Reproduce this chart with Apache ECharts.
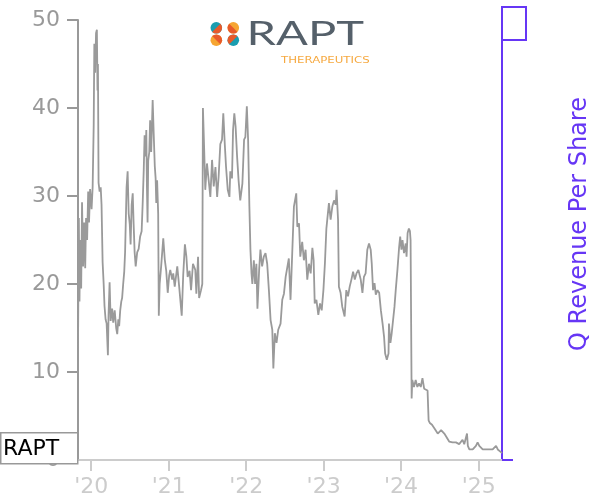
<!DOCTYPE html>
<html>
<head>
<meta charset="utf-8">
<script src="https://cdn.jsdelivr.net/npm/echarts@6/dist/echarts.min.js"></script>
<style>html,body{margin:0;padding:0;background:#fff;}#chart{width:600px;height:500px;}</style>
</head>
<body>
<div id="chart"></div>
<script>
// ---- DATA ----
const ticker = "RAPT";
const rightAxisName = "Q Revenue Per Share";
const yTicks = [0, 10, 20, 30, 40, 50];
const xTickLabels = ["'20", "'21", "'22", "'23", "'24", "'25"];

const dates2019 = ["10-31","11-04","11-07","11-10","11-15","11-19","11-24","11-29","12-04","12-08","12-13","12-18","12-22","12-27"];
const price2019 = [12.5,27.5,18.0,25.0,19.5,29.3,22.0,27.0,21.8,27.5,25.0,30.5,27.0,30.8];

const dates2020 = ["01-03","01-08","01-13","01-16","01-20","01-24","01-28","01-31","02-02","02-05",
  "02-10","02-15","02-19","02-24","02-29","03-04","03-09","03-14","03-20","03-23",
  "03-28","04-02","04-09","04-14","04-21","04-28","05-03","05-08","05-12","05-17",
  "05-22","05-26","05-31","06-05","06-09","06-16","06-21","06-26","07-01","07-05",
  "07-10","07-15","07-19","07-24","07-29","08-05","08-12","08-19","08-26","08-31",
  "09-05","09-09","09-14","09-17","09-20","09-23","09-26","10-01","10-05","10-10",
  "10-17","10-22","10-27","10-31","11-03","11-07","11-12","11-15","11-19","11-26",
  "12-06","12-13","12-20","12-27"];
const price2020 = [28.5,31.0,38.0,47.3,44.0,48.5,48.9,42.0,45.0,31.5,
  30.5,31.0,29.0,22.5,20.0,17.5,16.0,15.5,11.9,16.5,
  20.2,15.8,17.2,15.6,17.0,15.0,14.3,16.0,15.2,17.0,
  18.0,18.4,20.0,21.4,23.6,31.0,32.8,28.0,26.8,24.5,
  29.0,30.3,27.0,23.6,22.0,23.6,24.0,25.4,26.0,29.2,
  33.0,36.9,34.5,37.5,31.0,27.0,34.0,35.0,38.6,35.0,
  40.9,37.0,33.4,32.0,29.2,31.8,28.0,16.4,20.0,22.0,
  25.2,22.8,21.5,19.0];

const dates2021 = ["01-03","01-08","01-17","01-22","01-29","02-10","02-19","03-03","03-10","03-18",
  "03-25","03-31","04-09","04-16","04-25","05-06","05-11","05-19","05-24","06-02",
  "06-08","06-11","06-17","06-22","06-30","07-08","07-16","07-24","08-01","08-09",
  "08-17","08-24","09-01","09-09","09-15","09-22","09-28","10-06","10-14","10-18",
  "10-26","10-31","11-06","11-12","11-19","11-26","12-04","12-14","12-22","12-28"];
const price2021 = [21.0,21.6,20.5,21.2,19.7,22.0,19.7,16.4,21.0,24.5,
  23.1,20.8,21.5,19.3,22.3,21.6,18.9,23.1,18.4,19.3,
  20.0,40.0,35.2,30.7,33.7,31.8,29.9,34.1,31.1,33.3,
  29.9,32.2,35.9,36.4,39.4,35.9,33.3,30.7,29.9,32.8,
  32.0,37.5,39.4,37.9,34.5,31.8,29.5,31.4,36.4,36.7];

const dates2022 = ["01-04","01-10","01-16","01-21","01-26","01-30","02-06","02-12","02-18","02-23",
  "03-03","03-09","03-17","03-25","04-02","04-10","04-18","04-26","05-04","05-09",
  "05-16","05-24","06-01","06-12","06-20","06-28","07-06","07-14","07-21","07-29",
  "08-06","08-14","08-25","08-30","09-07","09-13","09-22","09-30","10-08","10-16",
  "10-24","11-01","11-09","11-15","11-20","11-28","12-07","12-15","12-23","12-31"];
const price2022 = [40.2,36.4,28.8,23.9,21.2,20.0,22.7,20.0,22.3,17.2,
  21.6,23.9,22.0,23.1,23.5,22.3,19.3,15.9,14.8,10.4,
  14.4,13.3,14.8,15.5,18.2,18.9,20.8,20.9,22.9,18.2,
  23.5,28.8,30.3,26.5,26.9,23.1,24.8,22.7,23.9,20.5,
  22.3,21.2,24.1,22.7,17.8,18.2,16.5,17.8,17.0,19.3];

const dates2023 = ["01-07","01-14","01-21","01-26","02-03","02-11","02-19","02-27","03-03","03-10",
  "03-14","03-22","03-30","04-10","04-18","04-26","05-04","05-12","05-20","05-28",
  "06-05","06-14","06-25","07-03","07-10","07-18","07-26","08-03","08-11","08-16",
  "08-22","08-29","09-04","09-12","09-20","09-28","10-06","10-13","10-18","10-26",
  "11-03","11-05","11-12","11-18","11-24","12-01","12-07","12-15","12-23","12-28"];
const price2023 = [22.3,26.3,28.0,29.2,27.3,28.8,29.5,29.0,30.7,27.3,
  19.7,19.0,17.4,16.3,19.3,18.6,19.7,20.5,21.4,20.5,
  21.2,21.6,20.5,19.0,20.8,21.2,23.9,24.6,23.9,22.3,
  19.3,20.1,18.8,19.3,19.0,17.0,15.5,14.0,12.1,11.4,
  12.1,15.5,13.3,14.4,14.2,17.4,19.3,21.6,24.2,25.4];

const dates2024 = ["01-03","01-08","01-15","01-23","01-27","02-01","02-07","02-12","02-15","02-20",
  "02-23","03-02","03-10","03-18","03-26","04-03","04-11","04-19","04-27","05-05",
  "05-10","05-16","05-26","06-06","06-14","06-22","06-30","07-08","07-16","07-23",
  "07-31","08-08","08-15","08-23","08-31","09-08","09-16","09-24","10-01","10-09",
  "10-17","10-25","11-02","11-07","11-11","11-18","11-26","12-04","12-11","12-19",
  "12-27"];
const price2024 = [23.9,25.0,23.5,24.6,23.1,25.8,26.3,26.0,25.0,7.0,
  9.1,8.3,9.1,8.3,8.7,8.3,9.3,8.1,8.3,7.9,
  4.5,4.2,4.0,3.6,3.8,3.0,2.9,3.4,3.6,3.0,
  2.7,2.5,2.1,2.3,2.0,2.1,2.0,2.1,1.8,2.0,
  2.3,1.8,2.0,3.0,1.6,1.2,1.4,1.2,1.0,1.6,
  2.0];

const dates2025 = ["01-04","01-12","01-20","01-28","02-04","02-12","02-19","02-27","03-08","03-16",
  "03-24","04-01","04-08","04-16","04-21"];
const price2025 = [1.6,1.4,1.2,1.4,1.2,1.3,1.2,1.4,1.2,1.3,
  1.6,1.2,1.0,0.9,0.8];

// ---- BUILD SERIES ----
const years = [
  [2019, dates2019, price2019], [2020, dates2020, price2020], [2021, dates2021, price2021],
  [2022, dates2022, price2022], [2023, dates2023, price2023], [2024, dates2024, price2024],
  [2025, dates2025, price2025]
];
const priceData = [];
years.forEach(function (y) {
  const ds = y[1], ps = y[2];
  for (let i = 0; i < ds.length; i++) priceData.push([y[0] + '-' + ds[i], ps[i]]);
});

const PURPLE = '#6636f5';
const FONT = 'DejaVu Sans';

const chart = echarts.init(document.getElementById('chart'), null, {renderer: 'canvas'});
chart.setOption({
  animation: false,
  backgroundColor: '#ffffff',
  grid: [
    {left: 78, right: 98, top: 20, bottom: 40, containLabel: false, outerBoundsMode: 'none'},
    {left: 78, right: 98, top: 7, bottom: 40, containLabel: false, outerBoundsMode: 'none'}
  ],
  xAxis: [
    {
      type: 'time', gridIndex: 0, min: 'dataMin', max: 'dataMax',
      minInterval: 365 * 24 * 3600 * 1000, maxInterval: 366 * 24 * 3600 * 1000,
      axisLine: {lineStyle: {color: '#cccccc', width: 2}},
      axisTick: {show: true, length: 11, lineStyle: {color: '#cccccc', width: 2}},
      axisLabel: {
        color: '#cccccc', fontSize: 22, fontFamily: FONT, margin: 16,
        formatter: function (v) {
          const yr = new Date(v).getFullYear();
          return xTickLabels[yr - 2020] || ("'" + String(yr).slice(2));
        }
      },
      splitLine: {show: false}
    },
    {type: 'value', gridIndex: 1, show: false, min: 0, max: 1}
  ],
  yAxis: [
    {
      type: 'value', gridIndex: 0, position: 'left',
      min: yTicks[0], max: yTicks[yTicks.length - 1], interval: 10,
      axisLine: {show: true, onZero: false, lineStyle: {color: '#999999', width: 2}},
      axisTick: {show: true, length: 11, lineStyle: {color: '#999999', width: 2}},
      axisLabel: {color: '#999999', fontSize: 22, fontFamily: FONT, margin: 18},
      splitLine: {show: false}
    },
    {
      type: 'value', gridIndex: 1, position: 'right',
      min: 0, max: 1, interval: 1,
      axisLine: {show: true, onZero: false, lineStyle: {color: PURPLE, width: 2}},
      axisTick: {show: true, length: 11, lineStyle: {color: PURPLE, width: 2}},
      axisLabel: {show: false},
      splitLine: {show: false}
    }
  ],
  series: [{
    type: 'line', xAxisIndex: 0, yAxisIndex: 0, data: priceData,
    showSymbol: false, symbol: 'none',
    lineStyle: {color: '#9a9a9a', width: 1.8},
    z: 1
  }],
  graphic: [
    // revenue marker box on right axis
    {type: 'rect', z: 100, shape: {x: 502, y: 7, width: 24, height: 33},
      style: {fill: 'none', stroke: PURPLE, lineWidth: 2}},
    // right axis title
    {type: 'text', z: 100, x: 580, y: 224, rotation: Math.PI / 2,
      style: {text: rightAxisName, fill: PURPLE, font: '24px "DejaVu Sans"', textAlign: 'center', textVerticalAlign: 'middle'}},
    // ticker box
    {type: 'rect', z: 100, shape: {x: 0.75, y: 432.75, width: 77, height: 31},
      style: {fill: '#ffffff', stroke: '#999999', lineWidth: 1.5}},
    {type: 'text', z: 101, x: 3, y: 449,
      style: {text: ticker, fill: '#000000', font: '22px "DejaVu Sans"', textAlign: 'left', textVerticalAlign: 'middle'}},
    // logo
    {type: 'group', z: 100, children: [
      {type: 'circle', shape: {cx: 216.3, cy: 27.8, r: 5.8}, style: {fill: '#1a9db0'}},
      {type: 'sector', shape: {cx: 216.3, cy: 27.8, r: 5.8, r0: 0, startAngle: -Math.PI / 4, endAngle: 3 * Math.PI / 4}, style: {fill: '#e85a2a'}},
      {type: 'circle', shape: {cx: 233.3, cy: 27.8, r: 5.8}, style: {fill: '#f6a532'}},
      {type: 'sector', shape: {cx: 233.3, cy: 27.8, r: 5.8, r0: 0, startAngle: Math.PI / 4, endAngle: 5 * Math.PI / 4}, style: {fill: '#e85a2a'}},
      {type: 'circle', shape: {cx: 216.3, cy: 40.2, r: 5.8}, style: {fill: '#f6a532'}},
      {type: 'sector', shape: {cx: 216.3, cy: 40.2, r: 5.8, r0: 0, startAngle: -3 * Math.PI / 4, endAngle: Math.PI / 4}, style: {fill: '#e85a2a'}},
      {type: 'circle', shape: {cx: 233.3, cy: 40.2, r: 5.8}, style: {fill: '#1a9db0'}},
      {type: 'sector', shape: {cx: 233.3, cy: 40.2, r: 5.8, r0: 0, startAngle: 3 * Math.PI / 4, endAngle: 7 * Math.PI / 4}, style: {fill: '#e85a2a'}},
      {type: 'text', x: 246.5, y: 34, scaleX: 1.52, scaleY: 1.05,
        style: {text: 'RAPT', fill: '#55606a', font: '400 31px Lato', textAlign: 'left', textVerticalAlign: 'middle'}},
      {type: 'text', x: 281, y: 60.5, scaleX: 1.47, scaleY: 1,
        style: {text: 'THERAPEUTICS', fill: '#f6a940', font: '8px "DejaVu Sans"', textAlign: 'left', textVerticalAlign: 'middle'}}
    ]}
  ]
});
</script>
</body>
</html>
